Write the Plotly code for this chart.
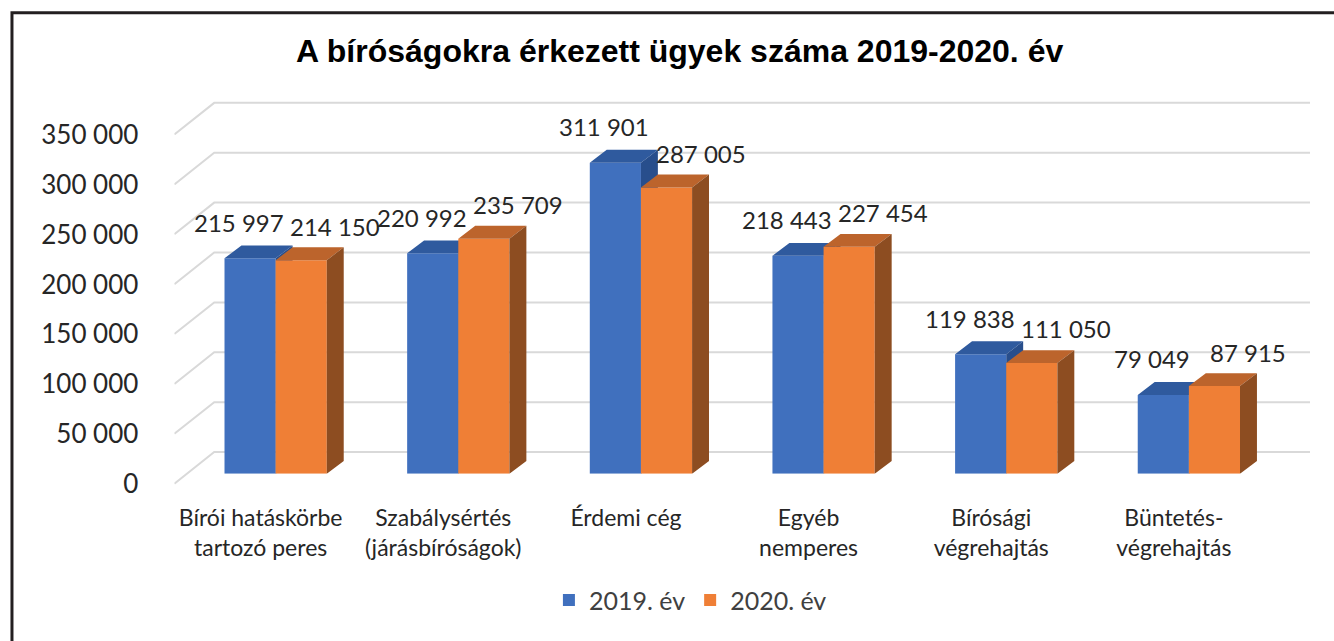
import plotly.graph_objects as go

# ---------------- data ----------------
categories = [
    "Bírói hatáskörbe<br>tartozó peres",
    "Szabálysértés<br>(járásbíróságok)",
    "Érdemi cég",
    "Egyéb<br>nemperes",
    "Bírósági<br>végrehajtás",
    "Büntetés-<br>végrehajtás",
]
series_names = ["2019. év", "2020. év"]
values_2019 = [215997, 220992, 311901, 218443, 119838, 79049]
values_2020 = [214150, 235709, 287005, 227454, 111050, 87915]
y_ticks = [0, 50000, 100000, 150000, 200000, 250000, 300000, 350000]
title_text = "A bíróságokra érkezett ügyek száma 2019-2020. év"

# ---------------- style / geometry ----------------
W, H = 1334, 641
K = 1.00857 / 1000.0          # px per value unit
YMAX = 400000
FRONT_DY_PX = 32              # front plane is 32 px below back plane
FRONT_DX_PX = 40
BAR_W = 0.28
DEPTH_X = 17 / 183.33         # bar depth in category units
DEPTH_Y = 13 / K              # bar depth in value units

BLUE = "#4070BE"
BLUE_TOP = "#2F5A9E"
BLUE_SIDE = "#284E8C"
ORANGE = "#EF7F36"
ORANGE_TOP = "#BC642C"
ORANGE_SIDE = "#8D4D21"
GRID = "#d9d9d9"
TXT = "#262626"
FONT = "Lato"


def py(px):
    return 1 - px / H


def px_(x):
    return x / W


fig = go.Figure()

# --- back wall gridlines + slanted floor-to-wall connectors (subplot xy) ---
front_off = FRONT_DY_PX / K
gx, gy = [], []
for v in y_ticks:
    gx += [0, FRONT_DX_PX, 1140, None]
    gy += [v - front_off, v, v, None]
fig.add_trace(go.Scatter(x=gx, y=gy, mode="lines", line=dict(color=GRID, width=2),
                         hoverinfo="skip", showlegend=False, xaxis="x", yaxis="y"))


def faces(vals, offset, top_col, side_col, xa, ya):
    tx, ty, sx, sy = [], [], [], []
    for i, v in enumerate(vals):
        x0 = i + offset
        x1 = x0 + BAR_W
        tx += [x0, x1, x1 + DEPTH_X, x0 + DEPTH_X, x0, None]
        ty += [v, v, v + DEPTH_Y, v + DEPTH_Y, v, None]
        sx += [x1, x1 + DEPTH_X, x1 + DEPTH_X, x1, x1, None]
        sy += [0, DEPTH_Y, v + DEPTH_Y, v, 0, None]
    fig.add_trace(go.Scatter(x=tx, y=ty, fill="toself", fillcolor=top_col, mode="lines",
                             line=dict(width=0, color=top_col), hoverinfo="skip",
                             showlegend=False, xaxis=xa, yaxis=ya))
    fig.add_trace(go.Scatter(x=sx, y=sy, fill="toself", fillcolor=side_col, mode="lines",
                             line=dict(width=0, color=side_col), hoverinfo="skip",
                             showlegend=False, xaxis=xa, yaxis=ya))


xs = list(range(len(categories)))

# blue series (x2y2)
fig.add_trace(go.Bar(x=xs, y=values_2019, name=series_names[0], width=BAR_W, offset=-BAR_W,
                     marker=dict(color=BLUE, line=dict(width=0)), xaxis="x2", yaxis="y2"))
faces(values_2019, -BAR_W, BLUE_TOP, BLUE_SIDE, "x2", "y2")

# orange series (x3y3 overlaying x2y2)
fig.add_trace(go.Bar(x=xs, y=values_2020, name=series_names[1], width=BAR_W, offset=0,
                     marker=dict(color=ORANGE, line=dict(width=0)), xaxis="x3", yaxis="y3"))
faces(values_2020, 0, ORANGE_TOP, ORANGE_SIDE, "x3", "y3")


def fmt(v):
    return f"{v:,}".replace(",", " ")


annotations = []
for i, v in enumerate(values_2019):
    annotations.append(dict(x=i - BAR_W / 2, y=v, xref="x2", yref="y2", text=fmt(v),
                            showarrow=False, xshift=-11, yshift=36, yanchor="middle",
                            font=dict(family=FONT, size=24, color=TXT)))
for i, v in enumerate(values_2020):
    annotations.append(dict(x=i + BAR_W / 2, y=v, xref="x3", yref="y3", text=fmt(v),
                            showarrow=False, xshift=34, yshift=34, yanchor="middle",
                            font=dict(family=FONT, size=24, color=TXT)))
annotations.append(dict(x=px_(677), y=py(52), xref="paper", yref="paper", text=f"<b>{title_text}</b>",
                        showarrow=False, xanchor="center", yanchor="middle",
                        font=dict(family="Liberation Sans, Arial", size=32, color="#000000")))

# domains
back_bottom = 457 + 40000 * K
back_top = 457 - YMAX * K
bar_bottom = 479
bar_top = 479 - YMAX * K

fig.update_layout(
    width=W, height=H,
    margin=dict(l=0, r=0, t=0, b=0),
    paper_bgcolor="white",
    plot_bgcolor="rgba(0,0,0,0)",
    separators=", ",
    showlegend=True,
    legend=dict(orientation="h", x=px_(688), xanchor="center", y=py(607), yanchor="middle",
                font=dict(family=FONT, size=25, color="#404040"), bgcolor="rgba(0,0,0,0)"),
    annotations=annotations,
    xaxis=dict(domain=[px_(170), px_(1310)], range=[0, 1140], visible=False, fixedrange=True),
    yaxis=dict(domain=[py(back_bottom), py(back_top)], range=[-40000, YMAX], showgrid=False,
               zeroline=False, showline=False, tickvals=y_ticks, tickformat=",d", ticks="",
               ticklabelshift=FRONT_DY_PX, ticklabelstandoff=35,
               tickfont=dict(family=FONT, size=26, color=TXT), fixedrange=True),
    xaxis2=dict(domain=[px_(180), px_(1280)], range=[-0.5, 5.5], anchor="y2", showgrid=False,
                zeroline=False, showline=False, tickvals=xs, ticktext=categories, ticks="",
                ticklabelshift=-15, ticklabelstandoff=28,
                tickfont=dict(family=FONT, size=23, color=TXT), fixedrange=True),
    yaxis2=dict(domain=[py(bar_bottom), py(bar_top)], range=[0, YMAX], anchor="x2", visible=False,
                fixedrange=True),
    xaxis3=dict(overlaying="x2", range=[-0.5, 5.5], anchor="y3", visible=False, fixedrange=True),
    yaxis3=dict(overlaying="y2", range=[0, YMAX], anchor="x3", visible=False, fixedrange=True),
    shapes=[dict(type="rect", xref="paper", yref="paper", x0=px_(7), x1=1.05, y0=-0.1, y1=py(13),
                 line=dict(color="#231f20", width=3), fillcolor="rgba(0,0,0,0)", layer="above")],
)

fig.write_html("out.html", config={"displayModeBar": False},
               post_script="document.body.style.margin='0';document.body.style.overflow='hidden';")
